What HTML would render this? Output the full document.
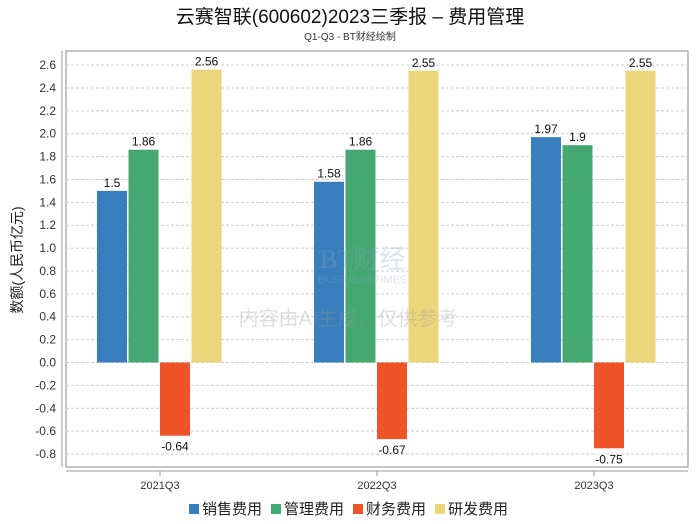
<!DOCTYPE html>
<html><head><meta charset="utf-8"><style>
body{margin:0;background:#fff;}
svg{display:block;font-family:"Liberation Sans","Noto Sans CJK SC",sans-serif;}
</style></head><body>
<svg id="c" width="700" height="524" xmlns="http://www.w3.org/2000/svg">
<text x="350" y="23" text-anchor="middle" font-size="19" fill="#111">云赛智联(600602)2023三季报 – 费用管理</text>
<text x="350" y="40" text-anchor="middle" font-size="10" fill="#333">Q1-Q3 - BT财经绘制</text>
<rect x="66" y="51" width="622" height="416" fill="#fff" stroke="#888"/>
<line x1="62" y1="51" x2="62" y2="467" stroke="#999"/>
<line x1="66" y1="471" x2="688" y2="471" stroke="#999"/>
<g id="grid"></g>
<g id="bars"></g>
<g id="wm" opacity="0.3">
<text x="320" y="268" font-size="26" fill="#8aa4c8" font-family="Liberation Serif,serif">BT财经</text>
<text x="318" y="283" font-size="11" fill="#8aa4c8">BUSINESSTIMES</text>
<text x="348" y="325" text-anchor="middle" font-size="20" fill="#999">内容由AI生成，仅供参考</text></g>
<text transform="translate(22,260) rotate(-90)" text-anchor="middle" font-size="14" fill="#222">数额(人民币亿元)</text>
<g id="legend"></g>
</svg>
<script>
const categories=["2021Q3","2022Q3","2023Q3"];
const seriesNames=["销售费用","管理费用","财务费用","研发费用"];
const sales=[1.5,1.58,1.97];
const admin=[1.86,1.86,1.9];
const finance=[-0.64,-0.67,-0.75];
const rnd=[2.56,2.55,2.55];
const yTicks=[-0.8,-0.6,-0.4,-0.2,0,0.2,0.4,0.6,0.8,1.0,1.2,1.4,1.6,1.8,2.0,2.2,2.4,2.6];
const colors=["#3a7fbd","#45a872","#ee5427","#ecd67a"];
const NS="http://www.w3.org/2000/svg";
const y=v=>362.5-v*114.4;
const cx=i=>160+217*i;
function mk(t,a,p){const e=document.createElementNS(NS,t);for(const k in a)e.setAttribute(k,a[k]);p.appendChild(e);return e;}
const grid=document.getElementById('grid');
yTicks.forEach(v=>{
 const l=mk('line',{x1:66,x2:688,y1:y(v),y2:y(v),stroke:'#ccc','stroke-dasharray':'3,2'},grid);
 
 
 const t=mk('text',{x:56,y:y(v)+4,'text-anchor':'end','font-size':12,fill:'#333'},grid);
 t.textContent=v.toFixed(1);
 
 
});
const bars=document.getElementById('bars');
const all=[sales,admin,finance,rnd];
categories.forEach((c,i)=>{
 const tk=mk('line',{x1:cx(i),x2:cx(i),y1:471,y2:476,stroke:'#999'},bars);
 
 
 const t=mk('text',{x:cx(i),y:489,'text-anchor':'middle','font-size':11,fill:'#333'},bars);
 t.textContent=c;
 
 
 all.forEach((s,j)=>{
  const v=s[i];const bx=cx(i)-63+j*31.5;
  const r=mk('rect',{x:bx,y:Math.min(y(v),y(0)),width:30,height:Math.abs(y(v)-y(0)),fill:colors[j]},bars);
  
  
  const l=mk('text',{x:bx+15,y:v>=0?y(v)-4:y(v)+15,'text-anchor':'middle','font-size':12,fill:'#111'},bars);
  l.textContent=String(v);
  
  
 });
});
const lg=document.getElementById('legend');
let lx=189;
seriesNames.forEach((n,j)=>{
 const r=mk('rect',{x:lx,y:504,width:10,height:10,fill:colors[j]},lg);
 
 
 const t=mk('text',{x:lx+13,y:514,'font-size':15,fill:'#222'},lg);
 t.textContent=n;
 
 
 lx+=82;
});
</script>
</body></html>
